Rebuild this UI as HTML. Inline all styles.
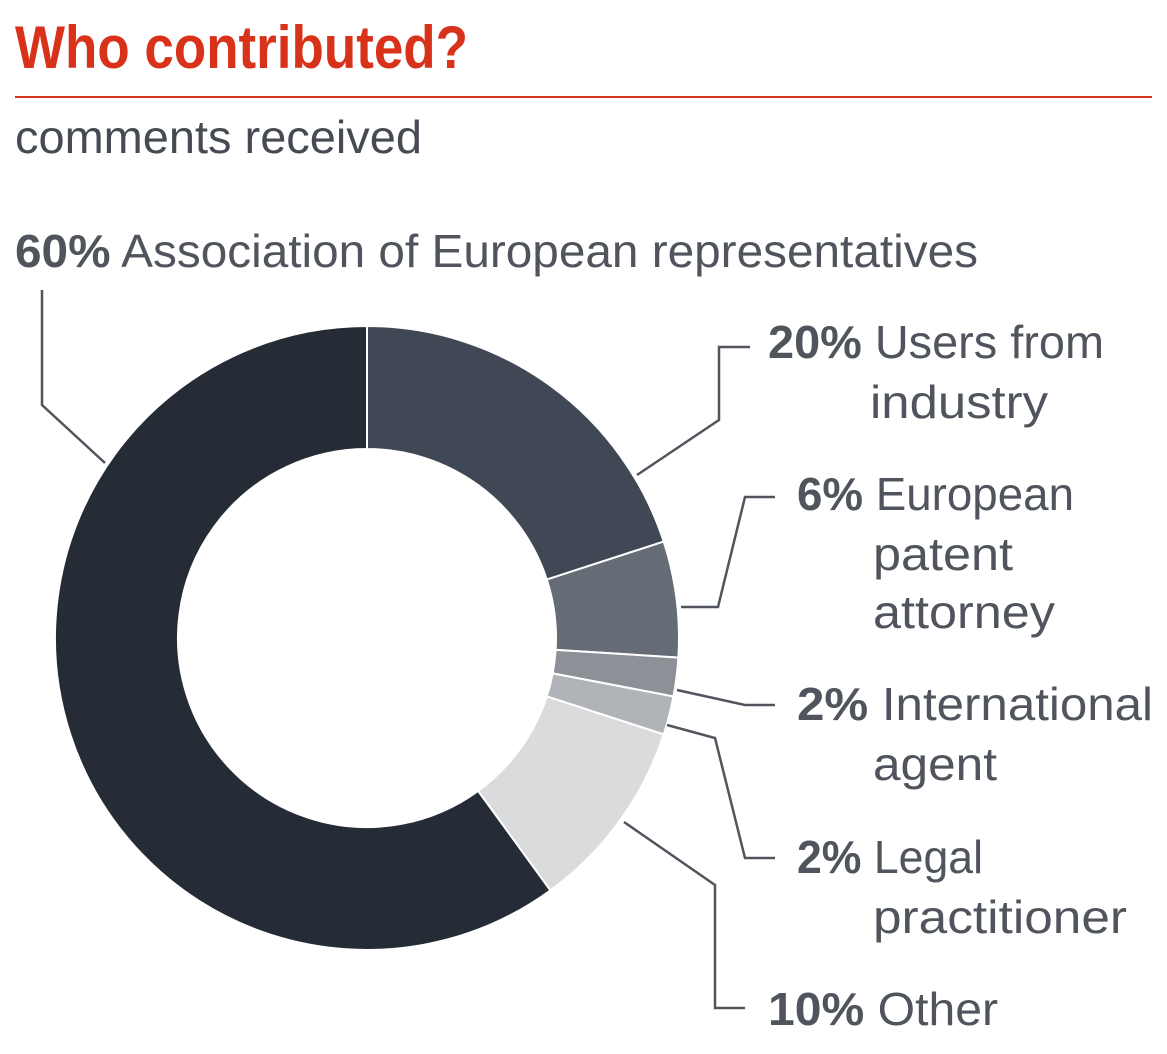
<!DOCTYPE html>
<html><head><meta charset="utf-8"><style>html,body{margin:0;padding:0;background:#fff}svg{display:block}</style></head>
<body>
<svg width="1167" height="1054" viewBox="0 0 1167 1054" xmlns="http://www.w3.org/2000/svg" font-family="Liberation Sans, sans-serif">
<text x="15" y="68" font-size="60" font-weight="bold" fill="#d9321a" textLength="453" lengthAdjust="spacingAndGlyphs">Who contributed?</text>
<rect x="15" y="96" width="1137" height="2" fill="#d9321a"/>
<text x="15" y="153" font-size="46" fill="#454a53" textLength="407" lengthAdjust="spacingAndGlyphs">comments received</text>
<g fill="#50555d" font-size="46">
<text x="15" y="267" textLength="963" lengthAdjust="spacingAndGlyphs"><tspan font-weight="bold">60%</tspan> Association of European representatives</text>
<text x="768" y="358" textLength="336" lengthAdjust="spacingAndGlyphs"><tspan font-weight="bold">20%</tspan> Users from</text>
<text x="870" y="418" textLength="178" lengthAdjust="spacingAndGlyphs">industry</text>
<text x="797" y="510" textLength="277" lengthAdjust="spacingAndGlyphs"><tspan font-weight="bold">6%</tspan> European</text>
<text x="873" y="570" textLength="140" lengthAdjust="spacingAndGlyphs">patent</text>
<text x="873" y="628" textLength="182" lengthAdjust="spacingAndGlyphs">attorney</text>
<text x="797" y="720" textLength="356" lengthAdjust="spacingAndGlyphs"><tspan font-weight="bold">2%</tspan> International</text>
<text x="873" y="780" textLength="124" lengthAdjust="spacingAndGlyphs">agent</text>
<text x="797" y="873" textLength="186" lengthAdjust="spacingAndGlyphs"><tspan font-weight="bold">2%</tspan> Legal</text>
<text x="873" y="933" textLength="254" lengthAdjust="spacingAndGlyphs">practitioner</text>
<text x="768" y="1025" textLength="230" lengthAdjust="spacingAndGlyphs"><tspan font-weight="bold">10%</tspan> Other</text>
</g>
<g stroke="#fff" stroke-width="2">
<path fill="#414855" d="M367,326 A312,312 0 0 1 663.73,541.59 L546.75,579.60 A189,189 0 0 0 367,449 Z"/>
<path fill="#666c76" d="M663.73,541.59 A312,312 0 0 1 678.38,657.59 L555.63,649.87 A189,189 0 0 0 546.75,579.60 Z"/>
<path fill="#8c9198" d="M678.38,657.59 A312,312 0 0 1 673.47,696.46 L552.65,673.41 A189,189 0 0 0 555.63,649.87 Z"/>
<path fill="#b0b3b8" d="M673.47,696.46 A312,312 0 0 1 663.73,734.41 L546.75,696.40 A189,189 0 0 0 552.65,673.41 Z"/>
<path fill="#dadbdd" d="M663.73,734.41 A312,312 0 0 1 550.39,890.41 L478.09,790.90 A189,189 0 0 0 546.75,696.40 Z"/>
<path fill="#262c35" d="M550.39,890.41 A312,312 0 1 1 367,326 L367,449 A189,189 0 1 0 478.09,790.90 Z"/>
</g>
<g fill="none" stroke="#50555d" stroke-width="2.5">
<polyline points="105,463 42,405 42,290"/>
<polyline points="637,475 719,420 719,347 750,347"/>
<polyline points="681,607 718,607 745,497 775,497"/>
<polyline points="677,690 745,705 775,705"/>
<polyline points="667,725 715,738 745,858 775,858"/>
<polyline points="624,822 715,885 715,1008 745,1008"/>
</g>
</svg>
</body></html>
